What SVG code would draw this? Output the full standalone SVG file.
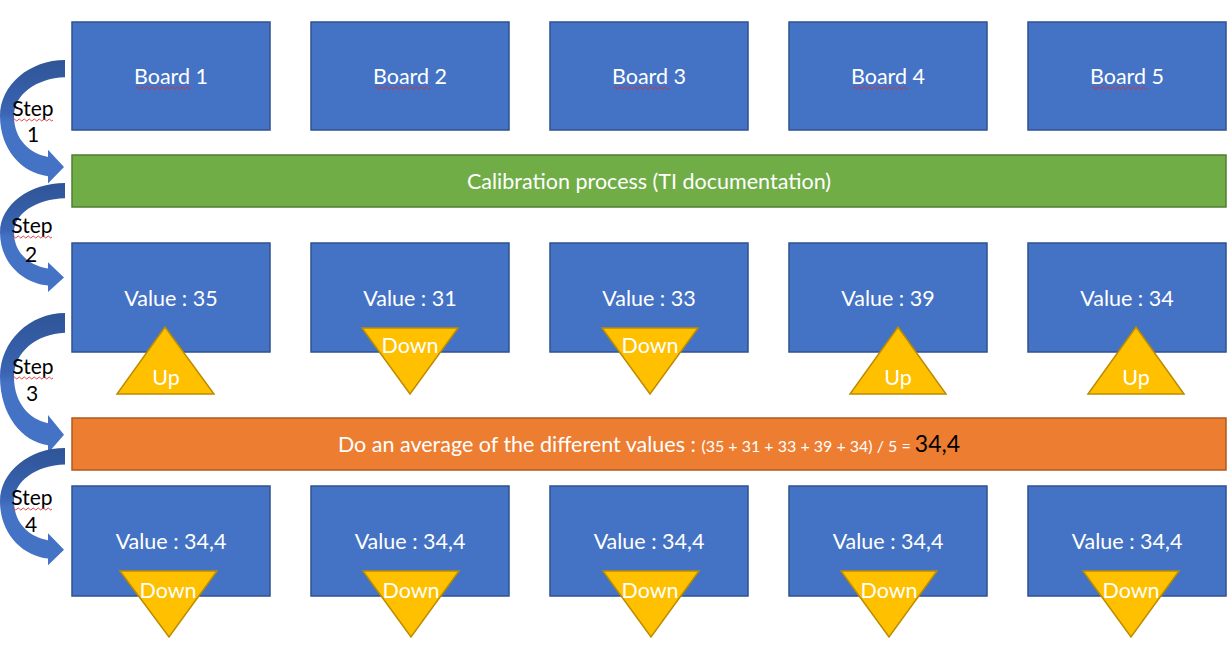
<svg xmlns="http://www.w3.org/2000/svg" width="1230" height="658" viewBox="0 0 1230 658">
<style>
.box{fill:#4472C4;stroke:#2F528F;stroke-width:1.5}
.green{fill:#70AD47;stroke:#507E32;stroke-width:1.5}
.orange{fill:#ED7D31;stroke:#AE5A21;stroke-width:1.5}
.tri{fill:#FFC000;stroke:#BC8C00;stroke-width:1.5;stroke-linejoin:miter}
.t{font-family:Lato,"Open Sans",sans-serif;font-size:21.5px;fill:#FFFFFF;text-anchor:middle}
.st{font-family:Lato,"Open Sans",sans-serif;font-size:21px;fill:#000000;text-anchor:middle}
.sq{fill:none;stroke:#E03030;stroke-width:0.9}
.arr{fill:url(#ag)}
</style>
<defs>
<linearGradient id="ag" x1="0" y1="0" x2="0" y2="1">
<stop offset="0" stop-color="#2F5597"/>
<stop offset="0.42" stop-color="#3A64B2"/>
<stop offset="0.5" stop-color="#4472C4"/>
<stop offset="1" stop-color="#4472C4"/>
</linearGradient>
<path id="carrow" d="M65,0 C30,0 0,24 0,55 C0,88 22,111 48,114 L48,121 L64,105 L48,88 L48,95 C30,92 14,78 14,55 C14,34 36,18 65,17 Z"/>
<path id="sqStep" d="M13,0 q1.25,-2 2.5,0 t2.5,0 t2.5,0 t2.5,0 t2.5,0 t2.5,0 t2.5,0 t2.5,0 t2.5,0 t2.5,0 t2.5,0 t2.5,0 t2.5,0 t2.5,0 t2.5,0 t2.5,0"/>
<path id="sqBoard" d="M0,0 q1.25,-2 2.5,0 t2.5,0 t2.5,0 t2.5,0 t2.5,0 t2.5,0 t2.5,0 t2.5,0 t2.5,0 t2.5,0 t2.5,0 t2.5,0 t2.5,0 t2.5,0 t2.5,0 t2.5,0 t2.5,0 t2.5,0 t2.5,0 t2.5,0 t2.5,0 t2.5,0"/>
</defs>

<g id="connectors">
<use href="#carrow" class="arr" transform="translate(0,60) scale(1,1.02)"/>
<use href="#carrow" class="arr" transform="translate(0,183) scale(1,0.9)"/>
<use href="#carrow" class="arr" transform="translate(0,313) scale(1,1.16)"/>
<use href="#carrow" class="arr" transform="translate(0,448) scale(1,0.97)"/>
</g>

<g id="step-labels">
<text class="st" x="33" y="116">Step</text><text class="st" x="33" y="142">1</text>
<use href="#sqStep" class="sq" transform="translate(0,120)"/>
<text class="st" x="32" y="233">Step</text><text class="st" x="31" y="262">2</text>
<use href="#sqStep" class="sq" transform="translate(-1,237)"/>
<text class="st" x="33" y="374">Step</text><text class="st" x="32" y="401">3</text>
<use href="#sqStep" class="sq" transform="translate(0,378)"/>
<text class="st" x="32" y="505">Step</text><text class="st" x="31" y="532">4</text>
<use href="#sqStep" class="sq" transform="translate(-1,509)"/>
</g>

<g id="board1"><rect class="box" x="72" y="22" width="198" height="108"/><text class="t" x="171" y="84">Board 1</text><use href="#sqBoard" class="sq" transform="translate(136,88)"/></g>
<g id="board2"><rect class="box" x="311" y="22" width="198" height="108"/><text class="t" x="410" y="84">Board 2</text><use href="#sqBoard" class="sq" transform="translate(375,88)"/></g>
<g id="board3"><rect class="box" x="550" y="22" width="198" height="108"/><text class="t" x="649" y="84">Board 3</text><use href="#sqBoard" class="sq" transform="translate(614,88)"/></g>
<g id="board4"><rect class="box" x="789" y="22" width="198" height="108"/><text class="t" x="888" y="84">Board 4</text><use href="#sqBoard" class="sq" transform="translate(853,88)"/></g>
<g id="board5"><rect class="box" x="1028" y="22" width="198" height="108"/><text class="t" x="1127" y="84">Board 5</text><use href="#sqBoard" class="sq" transform="translate(1092,88)"/></g>

<g id="calibration"><rect class="green" x="72" y="155" width="1154" height="52"/><text class="t" x="649" y="189">Calibration process (TI documentation)</text></g>

<g id="value1"><rect class="box" x="72" y="243" width="198" height="109"/><text class="t" x="171" y="306">Value : 35</text></g>
<g id="value2"><rect class="box" x="311" y="243" width="198" height="109"/><text class="t" x="410" y="306">Value : 31</text></g>
<g id="value3"><rect class="box" x="550" y="243" width="198" height="109"/><text class="t" x="649" y="306">Value : 33</text></g>
<g id="value4"><rect class="box" x="789" y="243" width="198" height="109"/><text class="t" x="888" y="306">Value : 39</text></g>
<g id="value5"><rect class="box" x="1028" y="243" width="198" height="109"/><text class="t" x="1127" y="306">Value : 34</text></g>

<g id="up1"><polygon class="tri" points="165,327 214,394 117,394"/><text class="t" x="166" y="385">Up</text></g>
<g id="down2"><polygon class="tri" points="362,328 458,328 410,394"/><text class="t" x="410" y="353">Down</text></g>
<g id="down3"><polygon class="tri" points="602,328 698,328 650,394"/><text class="t" x="650" y="353">Down</text></g>
<g id="up4"><polygon class="tri" points="898,327 946,394 850,394"/><text class="t" x="898" y="385">Up</text></g>
<g id="up5"><polygon class="tri" points="1136,327 1184,394 1088,394"/><text class="t" x="1136" y="385">Up</text></g>

<g id="average"><rect class="orange" x="72" y="418" width="1154" height="52"/><text class="t" x="649" y="452">Do an average of the different values : <tspan font-size="16">(35 + 31 + 33 + 39 + 34) / 5 = </tspan><tspan font-size="23" fill="#000000">34,4</tspan></text></g>

<g id="result1"><rect class="box" x="72" y="486" width="198" height="110"/><text class="t" x="171" y="549">Value : 34,4</text></g>
<g id="result2"><rect class="box" x="311" y="486" width="198" height="110"/><text class="t" x="410" y="549">Value : 34,4</text></g>
<g id="result3"><rect class="box" x="550" y="486" width="198" height="110"/><text class="t" x="649" y="549">Value : 34,4</text></g>
<g id="result4"><rect class="box" x="789" y="486" width="198" height="110"/><text class="t" x="888" y="549">Value : 34,4</text></g>
<g id="result5"><rect class="box" x="1028" y="486" width="198" height="110"/><text class="t" x="1127" y="549">Value : 34,4</text></g>

<g id="rdown1"><polygon class="tri" points="120,571 217,571 169,637"/><text class="t" x="168" y="598">Down</text></g>
<g id="rdown2"><polygon class="tri" points="363,571 459,571 411,637"/><text class="t" x="411" y="598">Down</text></g>
<g id="rdown3"><polygon class="tri" points="603,571 699,571 651,637"/><text class="t" x="650" y="598">Down</text></g>
<g id="rdown4"><polygon class="tri" points="841,571 937,571 889,637"/><text class="t" x="889" y="598">Down</text></g>
<g id="rdown5"><polygon class="tri" points="1083,571 1179,571 1131,637"/><text class="t" x="1131" y="598">Down</text></g>
</svg>
